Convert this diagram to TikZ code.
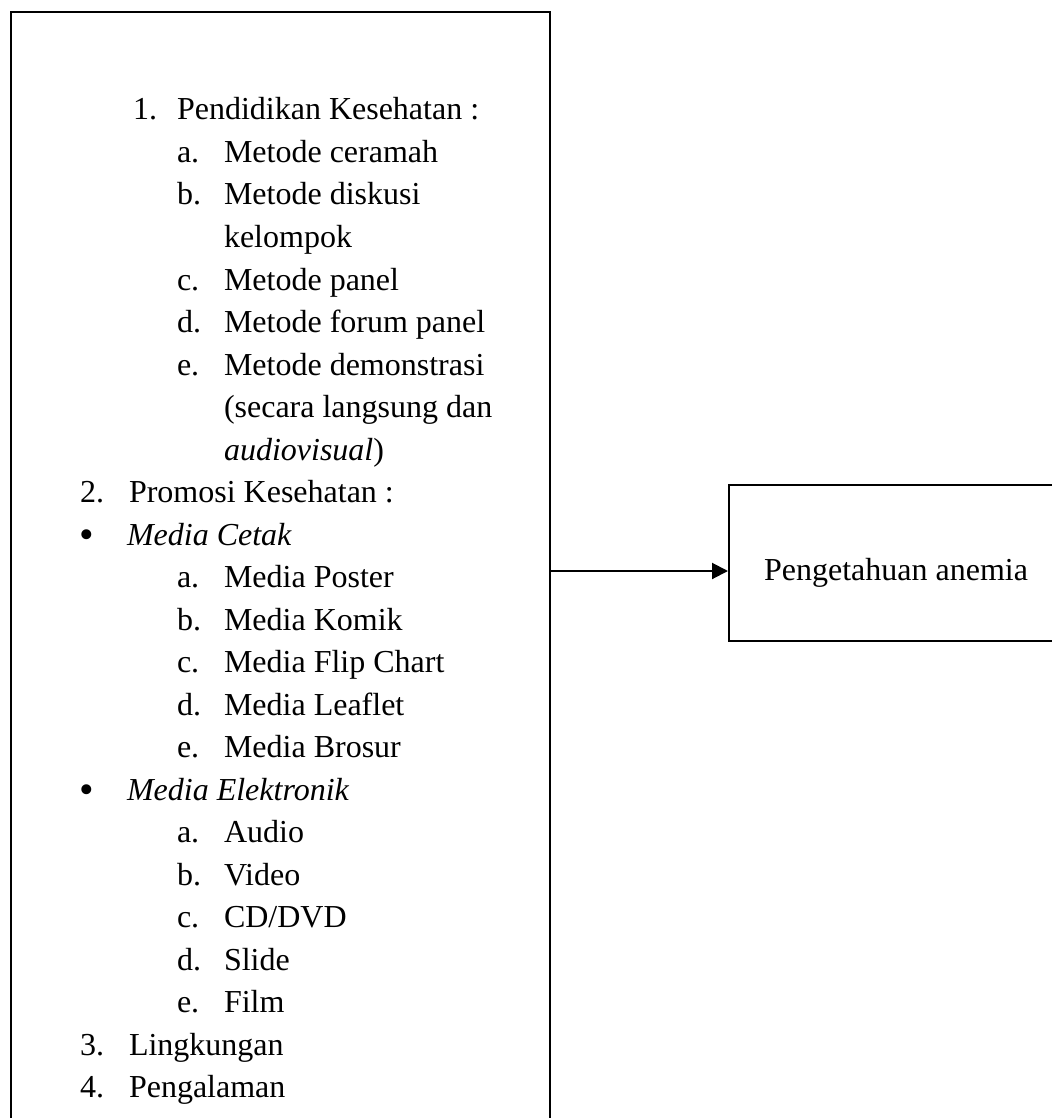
\documentclass[tikz,border=0pt]{standalone}
\usepackage{fontspec}
\setmainfont{Liberation Serif}
\usetikzlibrary{arrows.meta,positioning}

\newcommand{\butir}{\raisebox{-1.5pt}{\scalebox{1.3}{\textbullet}}}

\begin{document}
\begin{tikzpicture}[x=0.5pt, y=-0.5pt, line width=1pt,
  kotak/.style = {draw, rectangle, inner sep=0pt},
  teks/.style = {font=\fontsize{16pt}{19pt}\selectfont},
  baris/.style = {teks, anchor=base west, inner sep=0pt},
  panah/.style = {-{Triangle[length=8pt, width=8pt]}}]
  \useasboundingbox (0,0) rectangle (1052,1118);
  \node[kotak, anchor=north west, minimum width=269.5pt, minimum height=566pt] (faktor) at (10,11) {};
  \node[kotak, teks, anchor=north west, minimum width=167pt, minimum height=78pt,
        text height=17pt, text depth=0pt] (hasil) at (728,484) {Pengetahuan anemia};
  % isi daftar di kotak kiri
  \foreach \nx/\tx/\no/\isi [count=\i] in {
      132/176/1./Pendidikan Kesehatan :,
      176/223/a./Metode ceramah,
      176/223/b./Metode diskusi,
      176/223//kelompok,
      176/223/c./Metode panel,
      176/223/d./Metode forum panel,
      176/223/e./Metode demonstrasi,
      176/223//(secara langsung dan,
      176/223//{\textit{audiovisual})},
      79/128/2./Promosi Kesehatan :,
      78/126/\butir/\textit{Media Cetak},
      176/223/a./Media Poster,
      176/223/b./Media Komik,
      176/223/c./Media Flip Chart,
      176/223/d./Media Leaflet,
      176/223/e./Media Brosur,
      78/126/\butir/\textit{Media Elektronik},
      176/223/a./Audio,
      176/223/b./Video,
      176/223/c./{CD/DVD},
      176/223/d./Slide,
      176/223/e./Film,
      79/128/3./Lingkungan,
      79/128/4./Pengalaman} {
    \node[baris] (no\i) at (\nx,{120+(\i-1)*42.5}) {\no};
    \node[baris] (isi\i) at (\tx,{120+(\i-1)*42.5}) {\isi};
  }
  \coordinate (tujuan) at ([yshift=-4pt]hasil.west);
  \draw[panah] (faktor.east |- tujuan) -- (tujuan);
\end{tikzpicture}
\end{document}
